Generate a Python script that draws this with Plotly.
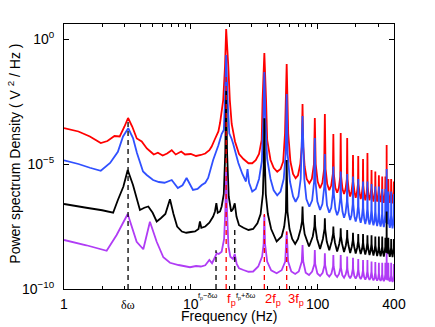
import math
import plotly.graph_objects as go

# (frequency Hz, log10 PSD)
red_pts = [
    (1.0, -3.56), (1.3, -3.7), (1.6, -3.9), (1.95, -4.16), (2.2, -4.08), (2.5, -3.88), (2.75, -3.9),
    (3.0, -3.5), (3.2, -3.16), (3.45, -3.5), (3.75, -3.98), (4.1, -4.1), (4.5, -4.38), (4.8, -4.5),
    (5.1, -4.62), (5.5, -4.55), (6.0, -4.66), (6.5, -4.58), (7.07, -4.45), (7.6, -4.62), (8.4, -4.5),
    (9.0, -4.62), (10.0, -4.6), (11.0, -4.68), (12.0, -4.64), (13.0, -4.58), (14.0, -4.45), (14.6, -4.3),
    (15.5, -4.0), (16.5, -3.7), (17.0, -3.36), (18.0, -2.44), (18.6, -1.1), (19.0, 0.4), (19.75, -1.1),
    (20.3, -2.44), (21.0, -3.4), (22.3, -4.1), (24.0, -4.6), (26.0, -4.8), (28.5, -4.97), (30.5, -4.97),
    (32.5, -4.85), (34.5, -4.6), (36.2, -4.04), (36.8, -2.44), (38.0, -0.56), (39.2, -2.44), (40.0, -4.04),
    (42.5, -4.84), (45.0, -5.15), (48.0, -5.31), (51.0, -5.2), (53.5, -4.9), (55.3, -3.77), (57.0, -1.0),
    (58.6, -3.77), (61.0, -4.9), (64.0, -5.4), (67.0, -5.57), (70.0, -5.45), (73.0, -5.0), (75.0, -4.3),
    (76.0, -2.6), (77.0, -4.3), (79.0, -5.1), (82.0, -5.6), (86.0, -5.77), (90.0, -5.6), (93.5, -5.0),
    (95.0, -3.16), (96.5, -5.0), (100, -5.7), (104.5, -5.97), (109, -5.75), (112.5, -5.2), (114, -3.0),
    (115.5, -5.2), (119, -5.8), (123.5, -6.05), (128, -5.85), (131.8, -5.4), (133, -3.8), (134.2, -5.4),
    (138, -5.95), (142.5, -6.15), (147, -5.95), (150.8, -5.5), (152, -3.76), (153.2, -5.5), (157, -6.0),
    (161.5, -6.2), (166, -6.0), (169.9, -5.6), (171, -3.96), (172.1, -5.6), (176, -6.05), (180.5, -6.3),
    (185, -6.1), (189, -5.7), (190, -4.64), (191, -5.7), (195, -6.1), (199.5, -6.35), (204, -6.15),
    (208, -5.8), (209, -4.68), (210, -5.8), (214, -6.15), (218.5, -6.4), (223, -6.2), (227, -5.85),
    (228, -4.8), (229, -5.85), (233, -6.2), (237.5, -6.45), (242, -6.25), (246, -5.9), (247, -4.56),
    (248, -5.9), (252, -6.25), (256.5, -6.45), (261, -6.25), (265, -5.95), (266, -5.24), (267, -5.95),
    (271, -6.3), (275.5, -6.5), (280, -6.3), (284, -6.0), (285, -5.3), (286, -6.0), (290, -6.3),
    (294.5, -6.5), (299, -6.3), (303, -6.0), (304, -5.45), (305, -6.0), (309, -6.35), (313.5, -6.52),
    (318, -6.35), (322, -6.05), (323, -5.5), (324, -6.05), (328, -6.35), (332.5, -6.55), (337, -6.35),
    (341, -6.1), (342, -5.5), (343, -6.1), (346.5, -6.4), (349.3, -6.3), (350, -4.24), (350.7, -6.3),
    (354, -6.45), (357, -6.3), (360, -6.1), (361, -5.6), (362, -6.1), (366, -6.4), (370.5, -6.55),
    (375, -6.4), (379, -6.1), (380, -5.6), (381, -6.1), (385, -6.4), (389.5, -6.57), (394, -6.4),
    (398, -6.1), (399, -5.7), (400, -6.2),
]

blue_pts = [
    (1.0, -4.85), (1.3, -5.0), (1.6, -5.15), (1.95, -5.27), (2.31, -4.96), (2.66, -4.51), (2.92, -3.9),
    (3.21, -3.57), (3.5, -3.96), (3.76, -4.56), (4.2, -5.3), (4.49, -5.44), (5.04, -5.64), (5.6, -5.72),
    (6.2, -5.75), (7.07, -5.64), (7.9, -5.96), (8.6, -5.85), (9.26, -5.56), (10.4, -6.04), (11.3, -6.0),
    (12.2, -5.84), (13.0, -5.75), (13.7, -5.56), (15.0, -4.84), (16.5, -4.25), (17.5, -3.8), (18.2, -3.64),
    (18.6, -2.44), (19.0, -0.64), (19.5, -2.44), (20.1, -3.77), (21.0, -4.0), (21.6, -4.2), (23.7, -4.96),
    (25.5, -5.4), (27.2, -5.7), (28.0, -5.2), (28.8, -5.75), (30.5, -6.1), (32.5, -6.0), (34.5, -5.6),
    (36.3, -4.9), (37.3, -3.24), (38.0, -1.32), (38.7, -3.24), (40.0, -4.8), (42.5, -5.6), (45.0, -6.05),
    (48.0, -6.25), (51.0, -6.1), (54.0, -5.6), (56.0, -4.6), (57.0, -2.2), (58.0, -4.6), (60.5, -5.7),
    (64.0, -6.3), (67.0, -6.51), (70.5, -6.3), (73.5, -5.6), (76.0, -3.08), (78.5, -5.6), (81.5, -6.4),
    (86.0, -6.71), (90.5, -6.45), (93.8, -5.7), (95.0, -3.96), (96.2, -5.7), (99.5, -6.5), (104.5, -6.84),
    (109, -6.6), (112.8, -5.9), (114, -4.6), (115.2, -5.9), (118.5, -6.65), (123.5, -6.95), (128, -6.75),
    (131.8, -6.2), (133, -5.1), (134.2, -6.2), (138, -6.8), (142.5, -7.05), (147, -6.85), (150.9, -6.35),
    (152, -5.3), (153.1, -6.35), (157, -6.9), (161.5, -7.15), (166, -6.95), (170, -6.5), (171, -5.4),
    (172, -6.5), (176, -7.0), (180.5, -7.24), (185, -7.05), (189, -6.6), (190, -5.5), (191, -6.6),
    (195, -7.1), (199.5, -7.3), (204, -7.1), (208, -6.7), (209, -5.6), (210, -6.7), (214, -7.15),
    (218.5, -7.35), (223, -7.15), (227, -6.75), (228, -5.7), (229, -6.75), (233, -7.2), (237.5, -7.4),
    (242, -7.2), (246, -6.8), (247, -5.7), (248, -6.8), (252, -7.25), (256.5, -7.42), (261, -7.25),
    (265, -6.85), (266, -5.8), (267, -6.85), (271, -7.3), (275.5, -7.45), (280, -7.3), (284, -6.9),
    (285, -5.9), (286, -6.9), (290, -7.3), (294.5, -7.48), (299, -7.3), (303, -6.95), (304, -5.9),
    (305, -6.95), (309, -7.35), (313.5, -7.5), (318, -7.35), (322, -7.0), (323, -6.0), (324, -7.0),
    (328, -7.35), (332.5, -7.52), (337, -7.35), (341, -7.0), (342, -6.0), (343, -7.0), (346.5, -7.35),
    (349.3, -7.2), (350, -5.2), (350.7, -7.2), (354, -7.4), (357, -7.3), (360, -7.05), (361, -6.1),
    (362, -7.05), (366, -7.4), (370.5, -7.55), (375, -7.4), (379, -7.05), (380, -6.1), (381, -7.05),
    (385, -7.4), (389.5, -7.57), (394, -7.4), (398, -7.05), (399, -6.2), (400, -7.2),
]

black_pts = [
    (1.0, -6.6), (1.5, -6.75), (2.0, -6.85), (2.44, -6.95), (2.66, -6.44), (2.94, -5.9), (3.18, -5.24),
    (3.5, -5.84), (3.97, -6.84), (4.3, -6.75), (4.62, -6.7), (5.0, -6.95), (5.38, -7.3), (5.8, -7.17),
    (6.3, -7.0), (6.85, -6.41), (7.3, -7.0), (7.8, -7.5), (8.5, -7.7), (9.2, -7.75), (10.0, -7.72),
    (10.8, -7.7), (11.5, -7.6), (11.8, -7.3), (12.1, -7.55), (13.0, -7.5), (14.0, -7.35), (15.0, -7.1),
    (15.5, -6.9), (15.9, -6.57), (16.3, -6.95), (17.0, -6.9), (17.5, -6.7), (18.2, -6.2), (18.7, -4.5),
    (19.0, -2.07), (19.3, -4.5), (19.9, -6.3), (20.8, -6.9), (21.5, -6.8), (22.2, -6.57), (22.9, -7.1),
    (24.0, -7.45), (26.0, -7.55), (28.5, -7.64), (31.0, -7.6), (33.5, -7.37), (35.5, -7.0), (37.0, -6.2),
    (37.6, -5.0), (38.0, -3.17), (38.4, -5.0), (39.0, -6.2), (40.5, -7.0), (43.0, -7.6), (47.5, -8.1),
    (52.0, -7.9), (54.5, -7.5), (56.2, -6.9), (57.0, -4.84), (57.8, -6.9), (60.0, -7.6), (63.0, -8.0),
    (66.5, -8.2), (70.0, -8.0), (73.5, -7.6), (75.3, -7.3), (76.0, -6.7), (76.7, -7.3), (79.0, -7.8),
    (85.5, -8.3), (91.5, -7.9), (94.3, -7.5), (95.0, -7.04), (95.7, -7.5), (99.0, -8.0), (104.5, -8.4),
    (110, -8.0), (113.3, -7.6), (114.0, -7.17), (114.7, -7.6), (118, -8.1), (123.5, -8.45), (129, -8.1),
    (132.3, -7.8), (133, -7.5), (133.7, -7.8), (137, -8.15), (142.5, -8.5), (148, -8.2), (151.3, -7.9),
    (152, -7.57), (152.7, -7.9), (156, -8.2), (161.5, -8.52), (167, -8.25), (170.3, -7.95), (171, -7.64),
    (171.7, -7.95), (175, -8.25), (180.5, -8.56), (186, -8.3), (189.3, -8.05), (190, -7.75), (190.7, -8.05),
    (194, -8.3), (199.5, -8.58), (205, -8.35), (208.3, -8.1), (209, -7.8), (209.7, -8.1), (213, -8.35),
    (218.5, -8.6), (224, -8.4), (227.3, -8.15), (228, -7.8), (228.7, -8.15), (232, -8.4), (237.5, -8.62),
    (243, -8.4), (246.3, -8.15), (247, -7.85), (247.7, -8.15), (251, -8.4), (256.5, -8.64), (262, -8.45),
    (265.3, -8.2), (266, -7.85), (266.7, -8.2), (270, -8.45), (275.5, -8.66), (281, -8.45), (284.3, -8.25),
    (285, -7.9), (285.7, -8.25), (289, -8.45), (294.5, -8.68), (300, -8.5), (303.3, -8.3), (304, -7.9),
    (304.7, -8.3), (308, -8.5), (313.5, -8.69), (319, -8.5), (322.3, -8.3), (323, -7.9), (323.7, -8.3),
    (327, -8.5), (332.5, -8.7), (338, -8.5), (341.3, -8.3), (342, -7.95), (342.7, -8.3), (346.5, -8.55),
    (349.3, -8.4), (350, -6.9), (350.7, -8.4), (354, -8.6), (357, -8.5), (360.3, -8.3), (361, -7.95),
    (361.7, -8.3), (366, -8.55), (370.5, -8.71), (375, -8.55), (379.3, -8.35), (380, -8.0), (380.7, -8.35),
    (385, -8.55), (389.5, -8.72), (394, -8.55), (398.3, -8.35), (399, -8.0), (400, -8.5),
]

purple_pts = [
    (1.0, -8.04), (1.5, -8.25), (2.17, -8.47), (2.6, -7.84), (3.18, -7.0), (3.74, -8.11), (4.22, -8.41),
    (4.76, -7.31), (5.38, -8.11), (6.07, -8.73), (6.85, -8.95), (8.0, -9.04), (9.85, -9.13), (11.0, -9.08),
    (12.0, -9.1), (13.0, -9.05), (14.0, -8.84), (14.7, -8.97), (15.5, -8.73), (16.0, -8.57), (16.6, -8.6),
    (17.5, -8.51), (18.3, -8.0), (18.7, -6.9), (19.0, -5.3), (19.3, -6.9), (19.8, -8.3), (20.5, -8.71),
    (21.5, -8.8), (22.2, -8.6), (23.0, -9.0), (24.0, -9.17), (26.0, -9.24), (28.5, -9.31), (31.0, -9.3),
    (34.0, -9.1), (36.5, -8.7), (37.5, -8.2), (38.0, -7.04), (38.5, -8.2), (40.0, -8.9), (43.0, -9.25),
    (47.5, -9.37), (52.0, -9.25), (55.5, -8.9), (57.0, -7.7), (58.5, -8.9), (62.0, -9.3), (66.5, -9.4),
    (71.0, -9.3), (75.0, -8.9), (76.0, -8.24), (77.0, -8.9), (80.5, -9.35), (85.5, -9.44), (90.5, -9.3),
    (94.3, -9.0), (95.0, -8.44), (95.7, -9.0), (99.5, -9.38), (104.5, -9.48), (109.5, -9.35), (113.3, -9.05),
    (114.0, -8.57), (114.7, -9.05), (118.5, -9.4), (123.5, -9.5), (128.5, -9.38), (132.3, -9.1), (133.0, -8.64),
    (133.7, -9.1), (137.5, -9.42), (142.5, -9.52), (147.5, -9.4), (151.3, -9.15), (152.0, -8.64), (152.7, -9.15),
    (156.5, -9.45), (161.5, -9.55), (166.5, -9.42), (170.3, -9.2), (171, -8.7), (171.7, -9.2), (175.5, -9.47),
    (180.5, -9.57), (185.5, -9.45), (189.3, -9.2), (190, -8.75), (190.7, -9.2), (194.5, -9.48), (199.5, -9.58),
    (204.5, -9.47), (208.3, -9.25), (209, -8.8), (209.7, -9.25), (213.5, -9.5), (218.5, -9.6), (223.5, -9.5),
    (227.3, -9.28), (228, -8.84), (228.7, -9.28), (232.5, -9.52), (237.5, -9.62), (242.5, -9.52), (246.3, -9.3),
    (247, -8.84), (247.7, -9.3), (251.5, -9.54), (256.5, -9.64), (261.5, -9.54), (265.3, -9.32), (266, -8.9),
    (266.7, -9.32), (270.5, -9.56), (275.5, -9.66), (280.5, -9.56), (284.3, -9.35), (285, -8.92), (285.7, -9.35),
    (289.5, -9.58), (294.5, -9.67), (299.5, -9.58), (303.3, -9.38), (304, -8.95), (304.7, -9.38), (308.5, -9.6),
    (313.5, -9.68), (318.5, -9.6), (322.3, -9.4), (323, -8.95), (323.7, -9.4), (327.5, -9.6), (332.5, -9.69),
    (337.5, -9.6), (341.3, -9.42), (342, -8.95), (342.7, -9.42), (346.5, -9.62), (349.3, -9.5), (350, -8.57),
    (350.7, -9.5), (354, -9.65), (357, -9.6), (360.3, -9.44), (361, -8.95), (361.7, -9.44), (366, -9.64),
    (370.5, -9.7), (375, -9.64), (379.3, -9.46), (380, -8.95), (380.7, -9.46), (385, -9.65), (389.5, -9.72),
    (394, -9.65), (398.3, -9.46), (399, -9.0), (400, -9.5),
]

# reference frequencies marked by dashed lines: (freq Hz, top log10 PSD, colour)
marker_freqs = [3.2, 15.8, 19.0, 22.2, 38.0, 57.0]
marker_tops = [-3.25, -8.45, -1.5, -7.6, -7.0, -7.7]
marker_colors = ["black", "black", "red", "black", "red", "red"]

# labels under the axis
label_texts = ["δω", "f<sub>p</sub>−δω", "f<sub>p</sub>", "f<sub>p</sub>+δω", "2f<sub>p</sub>", "3f<sub>p</sub>"]
label_freqs = [3.2, 15.8, 19.0, 22.2, 38.0, 57.0]
label_colors = ["black", "black", "red", "black", "red", "red"]

x_tickvals = [1, 10, 100, 400]
x_ticktext = ["1", "10", "100", "400"]
y_tickvals = [1e-10, 1e-5, 1e0]
y_ticktext = ["10<sup>−10</sup>", "10<sup>−5</sup>", "10<sup>0</sup>"]

curves = [(red_pts, "#ff0000"), (blue_pts, "#3050ff"), (black_pts, "#000000"), (purple_pts, "#b03cf5")]

fig = go.Figure()
for pts, col in curves:
    fig.add_trace(go.Scatter(
        x=[p[0] for p in pts], y=[10 ** p[1] for p in pts], mode="lines",
        line=dict(color=col, width=1.8, simplify=False), hoverinfo="skip"))

for f, top, col in zip(marker_freqs, marker_tops, marker_colors):
    fig.add_trace(go.Scatter(
        x=[f, f], y=[1e-10, 10 ** top], mode="lines",
        line=dict(color=col, width=1.3, dash="5px,4px"), hoverinfo="skip"))

FONT = "Liberation Sans, Arial, Helvetica, sans-serif"
annotations = []
anchors = ["center", "right", "left", "left", "left", "left"]
shifts = [0, 3, 0, 0, 0, 0]
for txt, f, col, anc, sh in zip(label_texts, label_freqs, label_colors, anchors, shifts):
    small = ("δω" in txt) and txt != "δω"
    if txt == "δω":
        annotations.append(dict(x=math.log10(f), y=-0.06, xref="x", yref="paper", text=txt,
                                showarrow=False, xanchor="center", yanchor="middle",
                                font=dict(family="Liberation Serif, Times New Roman, serif", size=12, color=col)))
    else:
        annotations.append(dict(x=math.log10(f), y=-0.005, xref="x", yref="paper", text=txt,
                                showarrow=False, xanchor=anc, yanchor="top", borderpad=0, xshift=sh,
                                font=dict(family=FONT, size=7.5 if small else 13, color=col)))

annotations.append(dict(x=0.5, y=-0.1, xref="paper", yref="paper", text="Frequency (Hz)",
                        showarrow=False, xanchor="center", yanchor="middle",
                        font=dict(family=FONT, size=14, color="black")))
annotations.append(dict(x=-0.152, y=0.51, xref="paper", yref="paper",
                        text="Power spectrum Density ( V <sup>2</sup> / Hz )", textangle=-90,
                        showarrow=False, xanchor="center", yanchor="middle",
                        font=dict(family=FONT, size=14, color="black")))

fig.update_layout(
    width=435, height=327,
    margin=dict(l=64, r=41, t=24, b=38),
    plot_bgcolor="white", paper_bgcolor="white",
    showlegend=False,
    font=dict(family=FONT, size=14, color="black"),
    annotations=annotations,
    xaxis=dict(type="log", range=[0, math.log10(400)], tickvals=x_tickvals, ticktext=x_ticktext,
               ticks="inside", ticklen=5, tickcolor="black", showline=True, linecolor="black",
               linewidth=1, mirror="ticks", showgrid=False, zeroline=False, ticklabelstandoff=2,
               minor=dict(ticks="inside", ticklen=3, tickcolor="black",
                          tickvals=[2, 3, 4, 5, 6, 7, 8, 9, 20, 30, 40, 50, 60, 70, 80, 90, 200, 300])),
    yaxis=dict(type="log", range=[-10, 0.6], tickvals=y_tickvals, ticktext=y_ticktext,
               ticks="inside", ticklen=5, tickcolor="black", showline=True, linecolor="black",
               linewidth=1, mirror="ticks", showgrid=False, zeroline=False, ticklabelstandoff=6),
)

fig.write_html("out.html", config={"displayModeBar": False},
               post_script="document.body.style.margin='0';document.body.style.overflow='hidden';")
